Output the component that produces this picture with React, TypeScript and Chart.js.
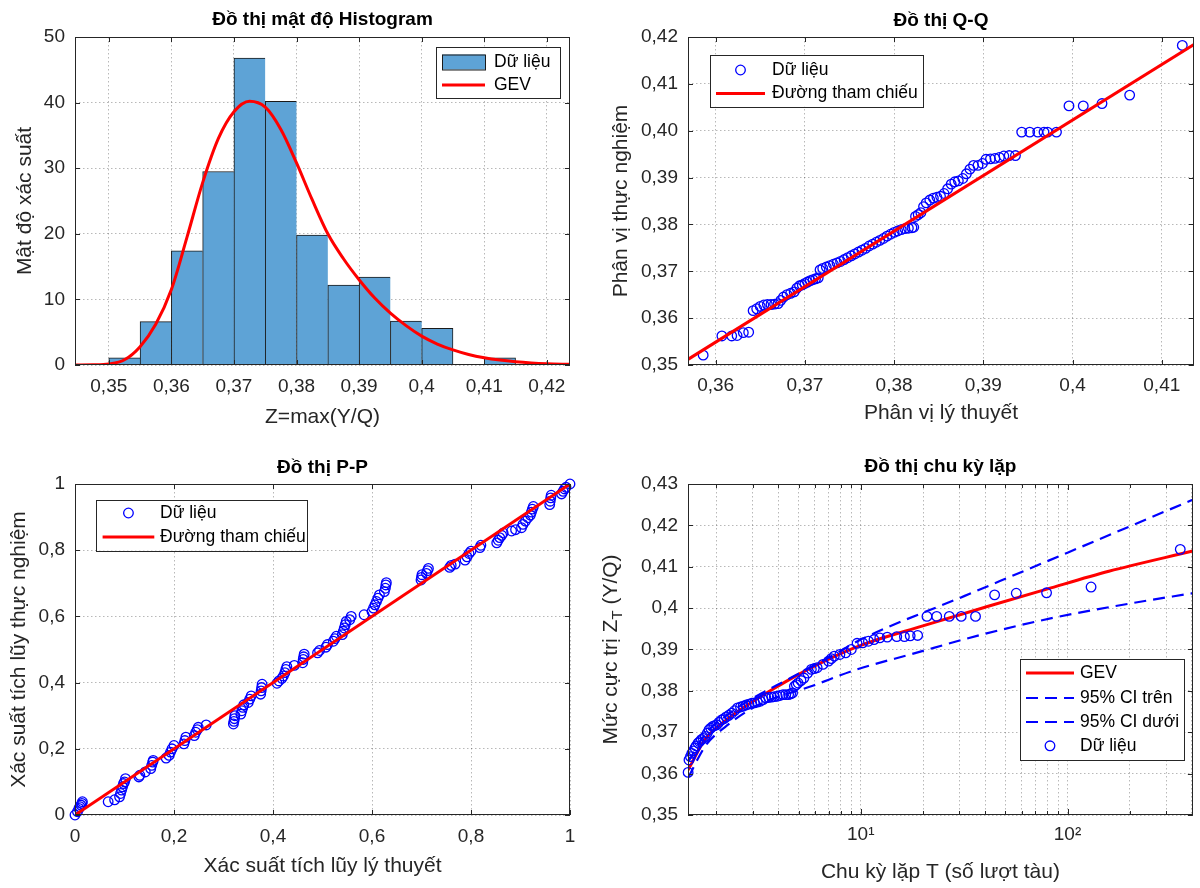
import React, { useEffect, useRef } from 'react';
import { Chart, registerables } from 'chart.js';

Chart.register(...registerables);

// ---------------- DATA ----------------
// Histogram (density) + fitted GEV pdf
const histBinCenters = [0.3525, 0.3575, 0.3625, 0.3675, 0.3725, 0.3775, 0.3825, 0.3875, 0.3925, 0.3975, 0.4025, 0.4075, 0.4125];
const histDensity = [1.1, 6.6, 17.4, 29.5, 46.8, 40.2, 19.8, 12.2, 13.4, 6.7, 5.6, null, 1.1];
const histGevX = [0.3446, 0.3475, 0.35, 0.3525, 0.355, 0.3575, 0.36, 0.3625, 0.365, 0.3675, 0.37, 0.3725, 0.375, 0.3775, 0.38, 0.3825, 0.385, 0.3875, 0.39, 0.3925, 0.395, 0.3975, 0.4, 0.4025, 0.405, 0.4075, 0.41, 0.4125, 0.415, 0.4175, 0.42, 0.4237];
const histGevY = [0, 0.02, 0.15, 0.8, 2.8, 6.2, 11.5, 19.5, 27.8, 34.5, 38.6, 40.2, 39.3, 35.9, 30.8, 25.2, 20.0, 16.2, 13.0, 10.2, 7.9, 6.0, 4.4, 3.2, 2.3, 1.6, 1.1, 0.75, 0.5, 0.32, 0.2, 0.1];
const histXTicks = [0.35, 0.36, 0.37, 0.38, 0.39, 0.4, 0.41, 0.42];
const histXLabels = ['0,35', '0,36', '0,37', '0,38', '0,39', '0,4', '0,41', '0,42'];
const histYTicks = [0, 10, 20, 30, 40, 50];
const histYLabels = ['0', '10', '20', '30', '40', '50'];

// Q-Q plot
const qqTheo = [0.3586, 0.3607, 0.3618, 0.3624, 0.3631, 0.3637, 0.3642, 0.3646, 0.3650, 0.3654, 0.3658, 0.3662, 0.3666, 0.3670, 0.3673, 0.3676, 0.3680, 0.3684, 0.3688, 0.3691, 0.3694, 0.3697, 0.3700, 0.3703, 0.3706, 0.3709, 0.3712, 0.3715, 0.3717, 0.3720, 0.3724, 0.3728, 0.3732, 0.3736, 0.3740, 0.3744, 0.3748, 0.3752, 0.3756, 0.3760, 0.3764, 0.3768, 0.3772, 0.3776, 0.3780, 0.3784, 0.3788, 0.3792, 0.3796, 0.3800, 0.3804, 0.3808, 0.3812, 0.3816, 0.3820, 0.3822, 0.3824, 0.3827, 0.3830, 0.3833, 0.3836, 0.3840, 0.3844, 0.3848, 0.3852, 0.3856, 0.3860, 0.3864, 0.3868, 0.3872, 0.3877, 0.3881, 0.3885, 0.3889, 0.3894, 0.3899, 0.3903, 0.3908, 0.3913, 0.3918, 0.3923, 0.3929, 0.3936, 0.3943, 0.3952, 0.3961, 0.3968, 0.3972, 0.3982, 0.3996, 0.4012, 0.4033, 0.4064, 0.4123];
const qqEmp = [0.3521, 0.3562, 0.3562, 0.3563, 0.3569, 0.3570, 0.3616, 0.3620, 0.3625, 0.3628, 0.3629, 0.3629, 0.3630, 0.3631, 0.3638, 0.3645, 0.3650, 0.3653, 0.3656, 0.3664, 0.3669, 0.3671, 0.3674, 0.3677, 0.3680, 0.3682, 0.3684, 0.3686, 0.3703, 0.3706, 0.3709, 0.3712, 0.3715, 0.3718, 0.3721, 0.3725, 0.3729, 0.3733, 0.3737, 0.3741, 0.3745, 0.3749, 0.3754, 0.3758, 0.3762, 0.3766, 0.3770, 0.3775, 0.3779, 0.3783, 0.3786, 0.3789, 0.3791, 0.3792, 0.3793, 0.3794, 0.3817, 0.3821, 0.3825, 0.3838, 0.3846, 0.3852, 0.3856, 0.3858, 0.3860, 0.3866, 0.3876, 0.3886, 0.3891, 0.3893, 0.3898, 0.3908, 0.3918, 0.3926, 0.3926, 0.3930, 0.3939, 0.3940, 0.3941, 0.3943, 0.3946, 0.3947, 0.3947, 0.3997, 0.3997, 0.3997, 0.3997, 0.3997, 0.3997, 0.4053, 0.4053, 0.4058, 0.4076, 0.4182];
const qqRefX = [0.3569, 0.4136];
const qqRefY = [0.3512, 0.4184];
const qqXTicks = [0.36, 0.37, 0.38, 0.39, 0.4, 0.41];
const qqXLabels = ['0,36', '0,37', '0,38', '0,39', '0,4', '0,41'];
const qqYTicks = [0.35, 0.36, 0.37, 0.38, 0.39, 0.4, 0.41, 0.42];
const qqYLabels = ['0,35', '0,36', '0,37', '0,38', '0,39', '0,40', '0,41', '0,42'];

// P-P plot
const ppTheo = [0.0, 0.005, 0.008, 0.010, 0.012, 0.014, 0.015, 0.067, 0.080, 0.090, 0.092, 0.094, 0.096, 0.098, 0.100, 0.102, 0.129, 0.131, 0.142, 0.153, 0.155, 0.157, 0.158, 0.184, 0.190, 0.193, 0.196, 0.200, 0.220, 0.222, 0.224, 0.241, 0.244, 0.247, 0.249, 0.265, 0.320, 0.321, 0.322, 0.323, 0.335, 0.337, 0.339, 0.341, 0.350, 0.353, 0.356, 0.375, 0.376, 0.377, 0.378, 0.408, 0.412, 0.418, 0.421, 0.424, 0.426, 0.428, 0.443, 0.460, 0.461, 0.462, 0.463, 0.490, 0.494, 0.507, 0.510, 0.522, 0.525, 0.528, 0.540, 0.542, 0.544, 0.546, 0.548, 0.555, 0.558, 0.584, 0.600, 0.603, 0.606, 0.609, 0.612, 0.615, 0.625, 0.627, 0.628, 0.629, 0.699, 0.700, 0.701, 0.710, 0.712, 0.714, 0.757, 0.760, 0.768, 0.788, 0.792, 0.796, 0.800, 0.818, 0.820, 0.852, 0.855, 0.858, 0.862, 0.865, 0.882, 0.890, 0.902, 0.905, 0.910, 0.915, 0.920, 0.922, 0.924, 0.926, 0.959, 0.960, 0.961, 0.962, 0.983, 0.986, 0.989, 0.992, 1.0];
const ppEmp = [0.0, 0.010, 0.020, 0.025, 0.030, 0.035, 0.040, 0.040, 0.046, 0.055, 0.065, 0.075, 0.085, 0.095, 0.100, 0.110, 0.115, 0.120, 0.130, 0.140, 0.150, 0.160, 0.165, 0.172, 0.180, 0.190, 0.200, 0.210, 0.215, 0.225, 0.235, 0.240, 0.250, 0.258, 0.265, 0.272, 0.275, 0.283, 0.291, 0.300, 0.305, 0.315, 0.325, 0.333, 0.340, 0.350, 0.360, 0.365, 0.375, 0.385, 0.395, 0.398, 0.405, 0.413, 0.420, 0.430, 0.440, 0.448, 0.452, 0.460, 0.470, 0.478, 0.486, 0.490, 0.497, 0.507, 0.515, 0.525, 0.533, 0.540, 0.545, 0.555, 0.565, 0.575, 0.585, 0.590, 0.600, 0.605, 0.615, 0.625, 0.635, 0.645, 0.655, 0.665, 0.675, 0.685, 0.695, 0.702, 0.710, 0.718, 0.726, 0.730, 0.738, 0.745, 0.748, 0.754, 0.758, 0.770, 0.780, 0.790, 0.797, 0.808, 0.815, 0.822, 0.830, 0.838, 0.845, 0.852, 0.858, 0.862, 0.868, 0.878, 0.888, 0.898, 0.906, 0.915, 0.924, 0.932, 0.938, 0.948, 0.958, 0.966, 0.970, 0.978, 0.985, 0.990, 1.0];
const ppRefX = [0, 1];
const ppRefY = [0, 1];
const ppTicks = [0, 0.2, 0.4, 0.6, 0.8, 1];
const ppLabels = ['0', '0,2', '0,4', '0,6', '0,8', '1'];

// Return level plot
const rpT = [1.462, 1.476, 1.50, 1.524, 1.55, 1.578, 1.60, 1.633, 1.66, 1.694, 1.73, 1.77, 1.81, 1.845, 1.88, 1.923, 1.96, 2.009, 2.06, 2.123, 2.18, 2.234, 2.30, 2.377, 2.45, 2.535, 2.62, 2.698, 2.79, 2.877, 2.97, 3.062, 3.16, 3.266, 3.37, 3.475, 3.59, 3.707, 3.82, 3.945, 4.07, 4.207, 4.34, 4.477, 4.58, 4.677, 4.775, 4.88, 4.977, 5.14, 5.309, 5.534, 5.768, 5.96, 6.152, 6.561, 6.982, 7.2, 7.447, 7.925, 8.453, 8.995, 9.594, 10.21, 10.89, 11.59, 12.36, 13.43, 14.93, 16.26, 17.34, 18.84, 20.9, 23.3, 26.8, 30.6, 35.9, 44.4, 56.5, 79.2, 130, 351];
const rpZ = [0.3603, 0.3633, 0.3641, 0.3649, 0.3655, 0.3662, 0.3667, 0.3674, 0.3677, 0.3682, 0.3685, 0.3690, 0.3698, 0.3706, 0.3710, 0.3714, 0.3716, 0.3718, 0.3724, 0.3730, 0.3733, 0.3737, 0.3741, 0.3746, 0.3752, 0.3759, 0.3761, 0.3763, 0.3766, 0.3768, 0.3770, 0.3771, 0.3773, 0.3775, 0.3779, 0.3783, 0.3784, 0.3785, 0.3786, 0.3787, 0.3789, 0.3791, 0.3791, 0.3791, 0.3793, 0.3795, 0.3811, 0.3815, 0.3819, 0.3825, 0.3831, 0.3843, 0.3852, 0.3854, 0.3856, 0.3864, 0.3872, 0.3878, 0.3884, 0.3888, 0.3892, 0.3900, 0.3915, 0.3916, 0.3920, 0.3924, 0.3928, 0.3930, 0.3931, 0.3931, 0.3933, 0.3934, 0.3980, 0.3980, 0.3980, 0.3980, 0.3980, 0.4032, 0.4036, 0.4037, 0.4051, 0.4142];
const rpGevT = [1.462, 1.778, 2.239, 2.818, 3.784, 5.012, 7.079, 10, 19.95, 39.81, 79.43, 158.5, 403.6];
const rpGevZ = [0.3609, 0.3685, 0.3730, 0.3765, 0.3805, 0.3840, 0.3878, 0.3910, 0.3957, 0.4002, 0.4046, 0.4089, 0.4138];
const rpUpT = [1.462, 1.778, 2.239, 2.818, 4.571, 7.586, 10, 31.62, 100, 403.6];
const rpUpZ = [0.3628, 0.3697, 0.3740, 0.3774, 0.3831, 0.3890, 0.3924, 0.4029, 0.4134, 0.4262];
const rpLoT = [1.462, 1.778, 2.198, 3.162, 5.902, 9.333, 17.95, 37.84, 88.1, 205.1, 403.6];
const rpLoZ = [0.3590, 0.3668, 0.3712, 0.3765, 0.3813, 0.3850, 0.3890, 0.3935, 0.3978, 0.4012, 0.4036];
const rpXTicks = [2, 3, 4, 5, 6, 7, 8, 9, 10, 20, 30, 40, 50, 60, 70, 80, 90, 100, 200, 300, 400];
const rpXLabels = ['', '', '', '', '', '', '', '', '10¹', '', '', '', '', '', '', '', '', '10²', '', '', ''];
const rpYTicks = [0.35, 0.36, 0.37, 0.38, 0.39, 0.4, 0.41, 0.42, 0.43];
const rpYLabels = ['0,35', '0,36', '0,37', '0,38', '0,39', '0,4', '0,41', '0,42', '0,43'];

// ---------------- STYLE ----------------
const FONT = "'Liberation Sans', Arial, 'DejaVu Sans', sans-serif";
const INK = '#262626';
const GRID = 'rgba(0,0,0,0.28)';
const BLUE = 'rgb(0,0,255)';
const RED = 'rgb(255,0,0)';
const BAR_FILL = 'rgb(94,163,214)';
const TICK_FONT = 19;
const LABEL_FONT = 21;
const TITLE_FONT = 19;
const LEGEND_FONT = 17.5;

Chart.defaults.font.family = FONT;

type Seg = { t: string; sub?: boolean };
type LegItem = { kind: 'patch' | 'line' | 'dash' | 'circle'; text: string; cy: number };
type LegendSpec = { x: number; y: number; w: number; h: number; mx0: number; mx1: number; tx: number; items: LegItem[] };
type DecoSpec = {
  title: string; titleY: number;
  xTitle: Seg[]; xTitleY: number;
  yTitle: Seg[]; yTitleX: number;
  legend: LegendSpec;
};

function drawSegs(ctx: CanvasRenderingContext2D, segs: Seg[], cx: number, cy: number, rot: boolean, size: number) {
  ctx.save();
  ctx.translate(cx, cy);
  if (rot) ctx.rotate(-Math.PI / 2);
  const fonts = segs.map((s) => `${s.sub ? Math.round(size * 0.72) : size}px ${FONT}`);
  let total = 0;
  const ws = segs.map((s, i) => {
    ctx.font = fonts[i];
    const w = ctx.measureText(s.t).width;
    total += w;
    return w;
  });
  let x = -total / 2;
  ctx.textBaseline = 'middle';
  ctx.textAlign = 'left';
  ctx.fillStyle = INK;
  segs.forEach((s, i) => {
    ctx.font = fonts[i];
    ctx.fillText(s.t, x, s.sub ? size * 0.32 : 0);
    x += ws[i];
  });
  ctx.restore();
}

function makeDeco(spec: DecoSpec) {
  return {
    id: 'deco',
    afterDatasetsDraw(chart: any) {
      const { ctx, chartArea: a, scales } = chart;
      ctx.save();
      ctx.strokeStyle = INK;
      ctx.lineWidth = 1;
      ctx.setLineDash([]);
      const xs = scales.x;
      const ys = scales.y;
      const isLog = xs.type === 'logarithmic';
      ctx.beginPath();
      for (const t of xs.ticks) {
        const p = Math.round(xs.getPixelForValue(t.value)) + 0.5;
        let len = 5;
        if (isLog) {
          const l = Math.log10(t.value);
          len = Math.abs(l - Math.round(l)) < 1e-6 ? 6 : 4;
        }
        ctx.moveTo(p, a.bottom); ctx.lineTo(p, a.bottom - len);
        ctx.moveTo(p, a.top); ctx.lineTo(p, a.top + len);
      }
      for (const t of ys.ticks) {
        const p = Math.round(ys.getPixelForValue(t.value)) + 0.5;
        ctx.moveTo(a.left, p); ctx.lineTo(a.left + 5, p);
        ctx.moveTo(a.right, p); ctx.lineTo(a.right - 5, p);
      }
      ctx.stroke();
      ctx.strokeRect(Math.round(a.left) + 0.5, Math.round(a.top) + 0.5, Math.round(a.right - a.left) - 1, Math.round(a.bottom - a.top) - 1);
      ctx.restore();
    },
    afterDraw(chart: any) {
      const { ctx, chartArea: a } = chart;
      ctx.save();
      ctx.font = `bold ${TITLE_FONT}px ${FONT}`;
      ctx.fillStyle = '#000';
      ctx.textAlign = 'center';
      ctx.textBaseline = 'middle';
      ctx.fillText(spec.title, (a.left + a.right) / 2, spec.titleY);
      ctx.restore();
      drawSegs(ctx, spec.xTitle, (a.left + a.right) / 2, spec.xTitleY, false, LABEL_FONT);
      drawSegs(ctx, spec.yTitle, spec.yTitleX, (a.top + a.bottom) / 2, true, LABEL_FONT);
      const L = spec.legend;
      ctx.save();
      ctx.fillStyle = '#fff';
      ctx.fillRect(L.x, L.y, L.w, L.h);
      ctx.strokeStyle = INK;
      ctx.lineWidth = 1;
      ctx.strokeRect(Math.round(L.x) + 0.5, Math.round(L.y) + 0.5, Math.round(L.w), Math.round(L.h));
      for (const it of L.items) {
        ctx.save();
        if (it.kind === 'patch') {
          ctx.fillStyle = BAR_FILL;
          ctx.fillRect(L.mx0, it.cy - 7.5, L.mx1 - L.mx0, 15);
          ctx.strokeStyle = '#1a1a1a';
          ctx.strokeRect(L.mx0 + 0.5, it.cy - 7, L.mx1 - L.mx0, 15);
        } else if (it.kind === 'line' || it.kind === 'dash') {
          ctx.strokeStyle = it.kind === 'line' ? RED : BLUE;
          ctx.lineWidth = it.kind === 'line' ? 3 : 2.2;
          ctx.setLineDash(it.kind === 'dash' ? [12, 7] : []);
          ctx.beginPath();
          ctx.moveTo(L.mx0, it.cy);
          ctx.lineTo(L.mx1, it.cy);
          ctx.stroke();
        } else {
          ctx.strokeStyle = BLUE;
          ctx.lineWidth = 1.3;
          ctx.beginPath();
          ctx.arc((L.mx0 + L.mx1) / 2, it.cy, 4.8, 0, Math.PI * 2);
          ctx.stroke();
        }
        ctx.restore();
        ctx.font = `${LEGEND_FONT}px ${FONT}`;
        ctx.fillStyle = '#000';
        ctx.textAlign = 'left';
        ctx.textBaseline = 'middle';
        ctx.fillText(it.text, L.tx, it.cy);
      }
      ctx.restore();
    },
  };
}

function tickCb(vals: number[], labels: string[]) {
  return (v: any) => {
    const n = Number(v);
    for (let i = 0; i < vals.length; i++) {
      if (Math.abs(vals[i] - n) < 1e-9 * Math.max(1, Math.abs(n))) return labels[i];
    }
    return '';
  };
}

function makeScale(kind: string, min: number, max: number, vals: number[], labels: string[], axis: 'x' | 'y', size: number, pad: number) {
  return {
    type: kind,
    min,
    max,
    offset: false,
    grid: { display: true, color: GRID, lineWidth: 1, drawTicks: false, offset: false },
    border: { display: false, dash: [1.5, 2.5] },
    ticks: {
      autoSkip: false,
      maxRotation: 0,
      minRotation: 0,
      padding: pad,
      color: INK,
      font: { family: FONT, size: TICK_FONT },
      callback: tickCb(vals, labels),
    },
    afterBuildTicks: (s: any) => {
      s.ticks = vals.map((v) => ({ value: v }));
    },
    afterFit: (s: any) => {
      if (axis === 'x') s.height = size;
      else s.width = size;
    },
  };
}

function baseOptions(pad: any, x: any, y: any) {
  return {
    responsive: false,
    animation: false,
    devicePixelRatio: 1,
    events: [],
    layout: { padding: pad },
    plugins: { legend: { display: false }, tooltip: { enabled: false }, title: { display: false } },
    scales: { x, y },
  };
}

const pts = (xs: number[], ys: (number | null)[]) => xs.map((x, i) => ({ x, y: ys[i] }));

const scatterStyle = {
  type: 'scatter',
  showLine: false,
  pointStyle: 'circle',
  pointRadius: 4.8,
  pointBorderWidth: 1.3,
  pointBorderColor: BLUE,
  pointBackgroundColor: 'rgba(0,0,0,0)',
  borderColor: BLUE,
  backgroundColor: 'rgba(0,0,0,0)',
  clip: false,
};

// ---------------- CONFIGS ----------------
function histConfig() {
  return {
    type: 'bar',
    data: {
      datasets: [
        {
          type: 'bar',
          data: pts(histBinCenters, histDensity),
          backgroundColor: BAR_FILL,
          borderColor: '#1a1a1a',
          borderWidth: (c: any) => {
            const i = c.dataIndex;
            const nextEmpty = i >= histDensity.length - 1 || histDensity[i + 1] == null;
            return { left: 1, top: 1, bottom: 0, right: nextEmpty ? 1 : 0 };
          },
          borderSkipped: false,
          barPercentage: 1,
          categoryPercentage: 1,
          order: 2,
        },
        {
          type: 'line',
          data: pts(histGevX, histGevY),
          borderColor: RED,
          borderWidth: 3,
          pointRadius: 0,
          cubicInterpolationMode: 'monotone',
          fill: false,
          order: 1,
        },
      ],
    },
    options: baseOptions(
      { left: 0, right: 30, top: 37, bottom: 0 },
      makeScale('linear', 0.3446, 0.4237, histXTicks, histXLabels, 'x', 79, 10),
      makeScale('linear', 0, 50, histYTicks, histYLabels, 'y', 75, 10)
    ),
    plugins: [
      makeDeco({
        title: 'Đồ thị mật độ Histogram', titleY: 20,
        xTitle: [{ t: 'Z=max(Y/Q)' }], xTitleY: 417,
        yTitle: [{ t: 'Mật độ xác suất' }], yTitleX: 25,
        legend: {
          x: 436, y: 47, w: 124, h: 51, mx0: 442, mx1: 485, tx: 494,
          items: [
            { kind: 'patch', text: 'Dữ liệu', cy: 62 },
            { kind: 'line', text: 'GEV', cy: 85 },
          ],
        },
      }),
    ],
  };
}

function qqConfig() {
  return {
    type: 'scatter',
    data: {
      datasets: [
        { ...scatterStyle, data: pts(qqTheo, qqEmp), order: 2 },
        { type: 'line', data: pts(qqRefX, qqRefY), borderColor: RED, borderWidth: 3, pointRadius: 0, fill: false, order: 1 },
      ],
    },
    options: baseOptions(
      { left: 0, right: 3, top: 37, bottom: 0 },
      makeScale('linear', 0.3569, 0.4136, qqXTicks, qqXLabels, 'x', 79, 9),
      makeScale('linear', 0.35, 0.42, qqYTicks, qqYLabels, 'y', 88, 10)
    ),
    plugins: [
      makeDeco({
        title: 'Đồ thị Q-Q', titleY: 20.5,
        xTitle: [{ t: 'Phân vị lý thuyết' }], xTitleY: 413,
        yTitle: [{ t: 'Phân vị thực nghiệm' }], yTitleX: 21,
        legend: {
          x: 110, y: 54.5, w: 212.5, h: 52, mx0: 116, mx1: 165, tx: 172,
          items: [
            { kind: 'circle', text: 'Dữ liệu', cy: 70 },
            { kind: 'line', text: 'Đường tham chiếu', cy: 93.5 },
          ],
        },
      }),
    ],
  };
}

function ppConfig() {
  return {
    type: 'scatter',
    data: {
      datasets: [
        { ...scatterStyle, data: pts(ppTheo, ppEmp), order: 2 },
        { type: 'line', data: pts(ppRefX, ppRefY), borderColor: RED, borderWidth: 3, pointRadius: 0, fill: false, order: 1 },
      ],
    },
    options: baseOptions(
      { left: 0, right: 30, top: 40, bottom: 0 },
      makeScale('linear', 0, 1, ppTicks, ppLabels, 'x', 73, 10),
      makeScale('linear', 0, 1, ppTicks, ppLabels, 'y', 75, 10)
    ),
    plugins: [
      makeDeco({
        title: 'Đồ thị P-P', titleY: 24,
        xTitle: [{ t: 'Xác suất tích lũy lý thuyết' }], xTitleY: 422.6,
        yTitle: [{ t: 'Xác suất tích lũy thực nghiệm' }], yTitleX: 19,
        legend: {
          x: 96, y: 55.6, w: 210.8, h: 51, mx0: 102.6, mx1: 154.3, tx: 160,
          items: [
            { kind: 'circle', text: 'Dữ liệu', cy: 69 },
            { kind: 'line', text: 'Đường tham chiếu', cy: 93 },
          ],
        },
      }),
    ],
  };
}

function rpConfig() {
  return {
    type: 'scatter',
    data: {
      datasets: [
        { type: 'line', data: pts(rpGevT, rpGevZ), borderColor: RED, borderWidth: 3, pointRadius: 0, fill: false, cubicInterpolationMode: 'monotone', order: 4 },
        { type: 'line', data: pts(rpUpT, rpUpZ), borderColor: BLUE, borderWidth: 2.2, borderDash: [12, 7], pointRadius: 0, fill: false, cubicInterpolationMode: 'monotone', order: 3 },
        { type: 'line', data: pts(rpLoT, rpLoZ), borderColor: BLUE, borderWidth: 2.2, borderDash: [12, 7], pointRadius: 0, fill: false, cubicInterpolationMode: 'monotone', order: 2 },
        { ...scatterStyle, data: pts(rpT, rpZ), order: 1 },
      ],
    },
    options: baseOptions(
      { left: 0, right: 3, top: 40, bottom: 0 },
      makeScale('logarithmic', 1.46, 404, rpXTicks, rpXLabels, 'x', 73, 8),
      makeScale('linear', 0.35, 0.43, rpYTicks, rpYLabels, 'y', 88, 10)
    ),
    plugins: [
      makeDeco({
        title: 'Đồ thị chu kỳ lặp', titleY: 23,
        xTitle: [{ t: 'Chu kỳ lặp T (số lượt tàu)' }], xTitleY: 427.8,
        yTitle: [{ t: 'Mức cực trị Z' }, { t: 'T', sub: true }, { t: ' (Y/Q)' }], yTitleX: 11.5,
        legend: {
          x: 419.8, y: 214.5, w: 163.8, h: 101.3, mx0: 426, mx1: 474, tx: 480,
          items: [
            { kind: 'line', text: 'GEV', cy: 229 },
            { kind: 'dash', text: '95% CI trên', cy: 254 },
            { kind: 'dash', text: '95% CI dưới', cy: 278 },
            { kind: 'circle', text: 'Dữ liệu', cy: 301.8 },
          ],
        },
      }),
    ],
  };
}

function Panel({ make, left, top }: { make: () => any; left: number; top: number }) {
  const ref = useRef<HTMLCanvasElement>(null);
  useEffect(() => {
    const chart = new Chart(ref.current as HTMLCanvasElement, make());
    return () => chart.destroy();
  }, []);
  return (
    <canvas
      ref={ref}
      width={600}
      height={444}
      style={{ position: 'absolute', left, top, width: 600, height: 444, display: 'block' }}
    />
  );
}

export default function App() {
  return (
    <div style={{ position: 'absolute', left: 0, top: 0, width: 1200, height: 888, background: '#fff', overflow: 'hidden' }}>
      <Panel make={histConfig} left={0} top={0} />
      <Panel make={qqConfig} left={600} top={0} />
      <Panel make={ppConfig} left={0} top={444} />
      <Panel make={rpConfig} left={600} top={444} />
    </div>
  );
}
